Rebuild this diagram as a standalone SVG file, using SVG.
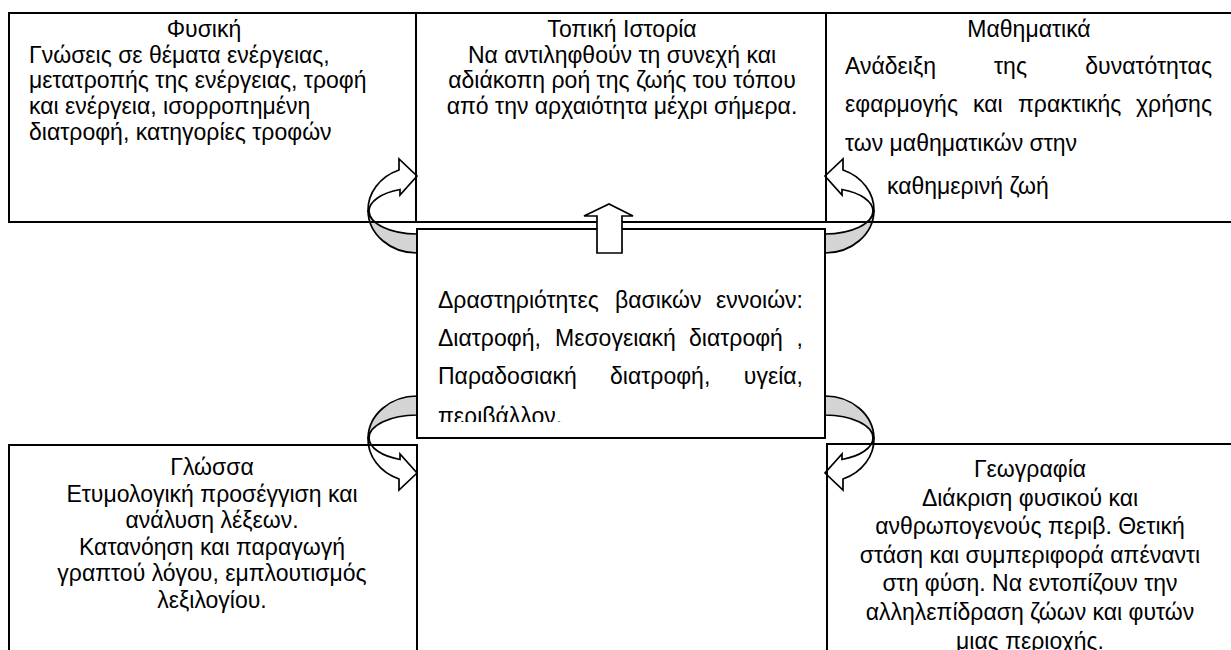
<svg xmlns="http://www.w3.org/2000/svg" xmlns:xlink="http://www.w3.org/1999/xlink" width="1231" height="650" viewBox="0 0 1231 650">
<style>
.box{fill:none;stroke:#000;stroke-width:2}
.wp{fill:#fff;stroke:#000;stroke-width:1.7;stroke-linejoin:miter}
.gp{fill:#d4d4d4;stroke:#000;stroke-width:1.7}
text{font-family:"Liberation Sans",Arial,sans-serif;font-size:23px;fill:#000}
.c{text-anchor:middle}
.e{text-anchor:end}
</style>
<defs>
<g id="curl">
<path class="gp" d="M368,211 A49,43 0 0 0 417,253 L417,234 A48,23 0 0 1 369,211 Z"/>
<path class="wp" d="M368,211 A49,43 0 0 1 399,170 L399,159 L417,176 L400,195 L400,189.5 A48,23 0 0 0 369,211 Z"/>
</g>
<clipPath id="cclip"><rect x="417" y="229" width="408" height="193"/></clipPath>
</defs>
<rect width="1231" height="650" fill="#fff"/>

<g id="connectors">
<use xlink:href="#curl"/>
<use xlink:href="#curl" transform="matrix(-1 0 0 1 1242 0)"/>
<use xlink:href="#curl" transform="matrix(1 0 0 -1 0 649)"/>
<use xlink:href="#curl" transform="matrix(-1 0 0 -1 1242 649)"/>
</g>

<g id="fysiki">
<rect class="box" x="9" y="13" width="407" height="209"/>
<text class="c" x="204" y="37">Φυσική</text>
<text x="29" y="62.7">Γνώσεις σε θέματα ενέργειας,</text>
<text x="29" y="88.4">μετατροπής της ενέργειας, τροφή</text>
<text x="29" y="114">και ενέργεια, ισορροπημένη</text>
<text x="29" y="139.8">διατροφή, κατηγορίες τροφών</text>
</g>

<g id="istoria">
<rect class="box" x="416" y="13" width="410" height="209"/>
<text class="c" x="622" y="37">Τοπική Ιστορία</text>
<text class="c" x="622" y="62.7">Να αντιληφθούν τη συνεχή και</text>
<text class="c" x="622" y="88.4">αδιάκοπη ροή της ζωής του τόπου</text>
<text class="c" x="622" y="114">από την αρχαιότητα μέχρι σήμερα.</text>
</g>

<g id="mathimatika">
<rect class="box" x="826" y="13" width="420" height="209"/>
<text class="c" x="1029" y="37">Μαθηματικά</text>
<text x="845" y="74">Ανάδειξη</text>
<text x="994" y="74">της</text>
<text class="e" x="1212" y="74">δυνατότητας</text>
<text x="845" y="112">εφαρμογής</text>
<text x="973" y="112">και</text>
<text x="1018" y="112">πρακτικής</text>
<text class="e" x="1212" y="112">χρήσης</text>
<text x="845" y="151">των μαθηματικών στην</text>
<text x="887" y="194">καθημερινή ζωή</text>
</g>

<g id="glossa">
<rect class="box" x="9" y="445" width="408" height="220"/>
<text class="c" x="212" y="475">Γλώσσα</text>
<text class="c" x="212" y="502">Ετυμολογική προσέγγιση και</text>
<text class="c" x="212" y="528">ανάλυση λέξεων.</text>
<text class="c" x="212" y="555">Κατανόηση και παραγωγή</text>
<text class="c" x="212" y="581">γραπτού λόγου, εμπλουτισμός</text>
<text class="c" x="212" y="608">λεξιλογίου.</text>
</g>

<g id="geografia">
<rect class="box" x="827" y="444" width="420" height="220"/>
<text class="c" x="1030" y="477">Γεωγραφία</text>
<text class="c" x="1030" y="505.5">Διάκριση φυσικού και</text>
<text class="c" x="1030" y="534">ανθρωπογενούς περιβ. Θετική</text>
<text class="c" x="1030" y="562.5">στάση και συμπεριφορά απέναντι</text>
<text class="c" x="1030" y="591">στη φύση. Να εντοπίζουν την</text>
<text class="c" x="1030" y="619.5">αλληλεπίδραση ζώων και φυτών</text>
<text class="c" x="1030" y="649">μιας περιοχής.</text>
</g>

<g id="drastiriotites">
<rect class="box" x="417" y="229" width="408" height="209" fill="#fff"/>
<g clip-path="url(#cclip)">
<text x="438" y="308">Δραστηριότητες</text>
<text x="615" y="308">βασικών</text>
<text class="e" x="803" y="308">εννοιών:</text>
<text x="438" y="346">Διατροφή,</text>
<text x="555" y="346">Μεσογειακή</text>
<text x="689" y="346">διατροφή</text>
<text class="e" x="803" y="346">,</text>
<text x="438" y="384">Παραδοσιακή</text>
<text x="610" y="384">διατροφή,</text>
<text class="e" x="803" y="384">υγεία,</text>
<text x="438" y="424">περιβάλλον,</text>
</g>
</g>

<g id="up-arrow">
<path class="wp" d="M597,253 L597,216 L584,216 L609,204 L633,216 L622,216 L622,253 Z"/>
</g>
</svg>
